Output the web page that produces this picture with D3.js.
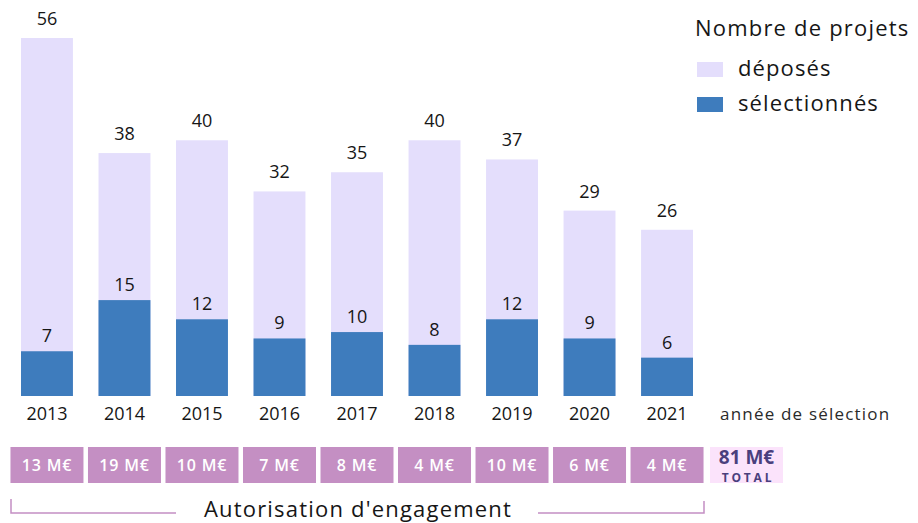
<!DOCTYPE html>
<html>
<head>
<meta charset="utf-8">
<script src="https://cdn.jsdelivr.net/npm/d3@7"></script>
<style>
  body { margin: 0; background: #fff; }
  svg { font-family: "Open Sans", "Noto Sans", sans-serif; display: block; }
</style>
</head>
<body>
<div class="canvas"></div>
<script>
var years = ['2013', '2014', '2015', '2016', '2017', '2018', '2019', '2020', '2021'];
var deposes = [56, 38, 40, 32, 35, 40, 37, 29, 26];
var selectionnes = [7, 15, 12, 9, 10, 8, 12, 9, 6];
var montants = ['13 M€', '19 M€', '10 M€', '7 M€', '8 M€', '4 M€', '10 M€', '6 M€', '4 M€'];
var total = '81 M€';

var width = 918;
var height = 523;
var baseY = 396;
var font = '"Open Sans", "Noto Sans", sans-serif';
var ink = '#161616';

var data = years.map(function(y, i) {
  return { year: y, dep: deposes[i], sel: selectionnes[i], ae: montants[i] };
});

var svg = d3.select('.canvas')
  .append('svg')
  .attr('width', width)
  .attr('height', height);

var xscale = d3.scaleBand()
  .domain(years)
  .range([21, 693])
  .paddingInner(0.33)
  .paddingOuter(0);

var yscale = d3.scaleLinear()
  .domain([0, 56])
  .range([baseY, 38]);

// déposés (barre entière), sélectionnés par-dessus
svg.selectAll('rect.dep')
  .data(data)
  .enter()
  .append('rect')
  .attr('class', 'dep')
  .attr('x', function(d) { return xscale(d.year); })
  .attr('y', function(d) { return yscale(d.dep); })
  .attr('width', xscale.bandwidth())
  .attr('height', function(d) { return baseY - yscale(d.dep); })
  .attr('fill', '#e4defc');

svg.selectAll('rect.sel')
  .data(data)
  .enter()
  .append('rect')
  .attr('class', 'sel')
  .attr('x', function(d) { return xscale(d.year); })
  .attr('y', function(d) { return yscale(d.sel); })
  .attr('width', xscale.bandwidth())
  .attr('height', function(d) { return baseY - yscale(d.sel); })
  .attr('fill', '#3e7cbd');

var cx = function(d) { return xscale(d.year) + xscale.bandwidth() / 2; };

svg.selectAll('text.dep')
  .data(data)
  .enter()
  .append('text')
  .attr('x', cx)
  .attr('y', function(d) { return yscale(d.dep) - 13; })
  .attr('text-anchor', 'middle')
  .attr('font-size', 18)
  .attr('font-weight', 500)
  .attr('fill', ink)
  .text(function(d) { return d.dep; });

svg.selectAll('text.sel')
  .data(data)
  .enter()
  .append('text')
  .attr('x', cx)
  .attr('y', function(d) { return yscale(d.sel) - 9; })
  .attr('text-anchor', 'middle')
  .attr('font-size', 18)
  .attr('font-weight', 500)
  .attr('fill', ink)
  .text(function(d) { return d.sel; });

// axe des années
var xaxis = d3.axisBottom(xscale).tickSize(0).tickPadding(11);
var gx = svg.append('g')
  .attr('transform', 'translate(0,' + baseY + ')')
  .call(xaxis);
gx.select('.domain').remove();
gx.selectAll('text')
  .attr('font-family', font)
  .attr('font-size', 18)
  .attr('font-weight', 500)
  .attr('fill', ink);

svg.append('text')
  .attr('x', 720)
  .attr('y', 420)
  .attr('font-size', 17)
  .attr('letter-spacing', 1.2)
  .attr('fill', '#2a2a2a')
  .text('année de sélection');

// autorisations d'engagement
var boxW = 73;
var boxTop = 447;
var boxH = 36;
svg.selectAll('rect.ae')
  .data(data)
  .enter()
  .append('rect')
  .attr('x', function(d) { return cx(d) - boxW / 2; })
  .attr('y', boxTop)
  .attr('width', boxW)
  .attr('height', boxH)
  .attr('fill', '#c48fc3');

svg.selectAll('text.ae')
  .data(data)
  .enter()
  .append('text')
  .attr('x', cx)
  .attr('y', boxTop + 24)
  .attr('text-anchor', 'middle')
  .attr('font-size', 16)
  .attr('font-weight', 600)
  .attr('letter-spacing', 0.8)
  .attr('fill', '#fff')
  .text(function(d) { return d.ae; });

// total
svg.append('rect')
  .attr('x', 710)
  .attr('y', boxTop)
  .attr('width', 73)
  .attr('height', boxH)
  .attr('fill', '#fbe3fb');
svg.append('text')
  .attr('x', 746.5)
  .attr('y', boxTop + 17)
  .attr('text-anchor', 'middle')
  .attr('font-size', 19)
  .attr('font-weight', 'bold')
  .attr('fill', '#4a3f7d')
  .text(total);
svg.append('text')
  .attr('x', 748)
  .attr('y', boxTop + 35)
  .attr('text-anchor', 'middle')
  .attr('font-size', 12)
  .attr('font-weight', 'bold')
  .attr('letter-spacing', 2.8)
  .attr('fill', '#4a3f7d')
  .text('TOTAL');

// accolade
var bracket = '#c48fc3';
svg.append('path')
  .attr('d', 'M11,499 V513 H176')
  .attr('fill', 'none')
  .attr('stroke', bracket)
  .attr('stroke-width', 1.5);
svg.append('path')
  .attr('d', 'M538,513 H704 V501')
  .attr('fill', 'none')
  .attr('stroke', bracket)
  .attr('stroke-width', 1.5);
svg.append('text')
  .attr('x', 358)
  .attr('y', 517)
  .attr('text-anchor', 'middle')
  .attr('font-size', 22)
  .attr('letter-spacing', 1.2)
  .attr('fill', ink)
  .text("Autorisation d'engagement");

// légende
svg.append('text')
  .attr('x', 695)
  .attr('y', 36)
  .attr('font-size', 22)
  .attr('letter-spacing', 1.2)
  .attr('fill', ink)
  .text('Nombre de projets');

var legend = [
  { label: 'déposés', color: '#e4defc' },
  { label: 'sélectionnés', color: '#3e7cbd' }
];
var lg = svg.selectAll('g.leg')
  .data(legend)
  .enter()
  .append('g')
  .attr('transform', function(d, i) { return 'translate(697,' + (62 + i * 35) + ')'; });
lg.append('rect')
  .attr('width', 26)
  .attr('height', 15)
  .attr('fill', function(d) { return d.color; });
lg.append('text')
  .attr('x', 41)
  .attr('y', 14)
  .attr('font-size', 22)
  .attr('letter-spacing', 1.1)
  .attr('fill', ink)
  .text(function(d) { return d.label; });
</script>
</body>
</html>
